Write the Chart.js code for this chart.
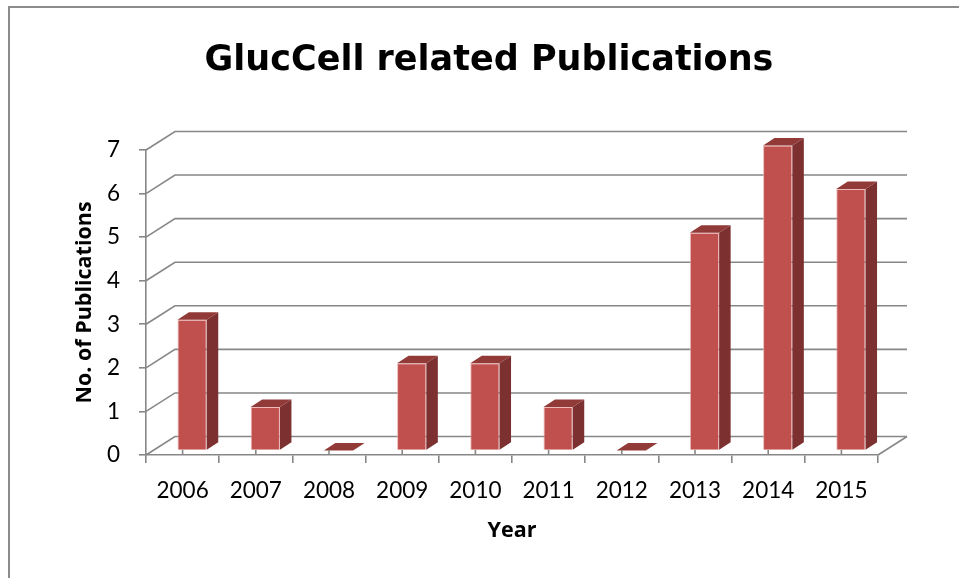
<!DOCTYPE html>
<html>
<head>
<meta charset="utf-8">
<script src="https://cdn.jsdelivr.net/npm/chart.js@4.4.1/dist/chart.umd.min.js"></script>
<style>
    html, body { margin: 0; padding: 0; background: #fff; }
    #wrap { width: 959px; height: 578px; }
</style>
</head>
<body>
<div id="wrap"><canvas id="chart" width="959" height="578"></canvas></div>
<script>
// Данные графика
const years = ['2006', '2007', '2008', '2009', '2010', '2011', '2012', '2013', '2014', '2015'];
const publications = [3, 1, 0, 2, 2, 1, 0, 5, 7, 6];
const yTicks = [0, 1, 2, 3, 4, 5, 6, 7];
const chartTitle = 'GlucCell related Publications';

// Смещения для псевдо-3D
const WALL_DX = 29, WALL_DY = -18.5;   // задняя стенка
const BAR_SHIFT_X = 9.5, BAR_SHIFT_Y = -4.5; // столбцы чуть вглубь
const BAR_DX = 11.5, BAR_DY = -7.5;    // глубина столбца

const GRID = '#878787';
const FONT = 'Lato';
const TITLE_FONT = 'Open Sans';

const box3d = {
    id: 'box3d',
    beforeDraw(chart) {
        const ctx = chart.ctx;
        ctx.save();
        ctx.fillStyle = '#fff';
        ctx.fillRect(0, 0, chart.width, chart.height);
        // рамка области диаграммы
        ctx.strokeStyle = '#8c8c8c';
        ctx.lineWidth = 2;
        ctx.strokeRect(9, 7, chart.width + 20, chart.height + 20);
        // заголовок
        ctx.fillStyle = '#000';
        ctx.font = 'bold 35px "DejaVu Sans"';
        ctx.textAlign = 'center';
        ctx.textBaseline = 'alphabetic';
        ctx.fillText(chartTitle, 489, 70);
        ctx.restore();
    },
    beforeDatasetsDraw(chart) {
        const ctx = chart.ctx;
        const y = chart.scales.y;
        const area = chart.chartArea;
        ctx.save();
        ctx.strokeStyle = GRID;
        ctx.lineWidth = 1.6;
        yTicks.forEach(v => {
            const py = y.getPixelForValue(v);
            ctx.beginPath();
            ctx.moveTo(area.left, py);
            ctx.lineTo(area.left + WALL_DX, py + WALL_DY);
            ctx.lineTo(area.right + WALL_DX, py + WALL_DY);
            ctx.stroke();
        });
        // правый край пола
        ctx.beginPath();
        ctx.moveTo(area.right, area.bottom);
        ctx.lineTo(area.right + WALL_DX, area.bottom + WALL_DY);
        ctx.stroke();
        ctx.restore();

        ctx.save();
        ctx.translate(BAR_SHIFT_X, BAR_SHIFT_Y);
    },
    afterDatasetsDraw(chart) {
        const ctx = chart.ctx;
        const meta = chart.getDatasetMeta(0);
        meta.data.forEach(bar => {
            const p = bar.getProps(['x', 'y', 'base', 'width'], true);
            const l = p.x - p.width / 2, r = p.x + p.width / 2;
            // боковая грань
            ctx.fillStyle = '#7c3030';
            ctx.beginPath();
            ctx.moveTo(r, p.y);
            ctx.lineTo(r + BAR_DX, p.y + BAR_DY);
            ctx.lineTo(r + BAR_DX, p.base + BAR_DY);
            ctx.lineTo(r, p.base);
            ctx.closePath();
            ctx.fill();
            // верхняя грань
            ctx.fillStyle = '#923a38';
            ctx.beginPath();
            ctx.moveTo(l, p.y);
            ctx.lineTo(l + BAR_DX, p.y + BAR_DY);
            ctx.lineTo(r + BAR_DX, p.y + BAR_DY);
            ctx.lineTo(r, p.y);
            ctx.closePath();
            ctx.fill();
        });
        ctx.restore();

        // короткие штрихи по центрам категорий
        const x = chart.scales.x;
        const area = chart.chartArea;
        ctx.save();
        ctx.strokeStyle = GRID;
        ctx.lineWidth = 1.6;
        years.forEach((_, i) => {
            const px = x.getPixelForValue(i);
            ctx.beginPath();
            ctx.moveTo(px, area.bottom);
            ctx.lineTo(px, area.bottom - 5);
            ctx.stroke();
        });
        ctx.restore();
    }
};

new Chart(document.getElementById('chart').getContext('2d'), {
    type: 'bar',
    data: {
        labels: years,
        datasets: [{
            data: publications,
            backgroundColor: '#c0504d',
            borderColor: 'rgba(232, 170, 170, 0.8)',
            borderWidth: 1,
            categoryPercentage: 1,
            barPercentage: 0.4,
            clip: false
        }]
    },
    options: {
        responsive: false,
        animation: false,
        devicePixelRatio: 1,
        layout: {
            padding: { left: 60, right: 81, top: 150, bottom: 20 }
        },
        plugins: {
            legend: { display: false },
            tooltip: { enabled: false },
            title: { display: false }
        },
        scales: {
            x: {
                grid: { offset: true, drawOnChartArea: false, tickLength: 8, color: GRID, lineWidth: 1.6 },
                border: { color: GRID, width: 1.6 },
                ticks: { color: '#000', font: { family: FONT, size: 22.5 }, padding: 14, maxRotation: 0 },
                title: {
                    display: true,
                    text: 'Year',
                    color: '#000',
                    font: { family: TITLE_FONT, size: 21.5, weight: 'bold', lineHeight: 1.2 },
                    padding: { top: 0, bottom: 14 }
                },
                afterFit(scale) { scale.height = 103; }
            },
            y: {
                min: 0,
                max: 7,
                grid: { drawOnChartArea: false, tickLength: 7, color: GRID, lineWidth: 1.6 },
                border: { color: GRID, width: 1.6 },
                ticks: { stepSize: 1, color: '#000', font: { family: FONT, size: 22.5 }, padding: 19 },
                title: {
                    display: true,
                    text: 'No. of Publications',
                    color: '#000',
                    font: { family: TITLE_FONT, size: 21.5, weight: 'bold', lineHeight: 1.2 },
                    padding: { top: 12, bottom: 0 }
                },
                afterFit(scale) { scale.width = 86; }
            }
        }
    },
    plugins: [box3d]
});
</script>
</body>
</html>
